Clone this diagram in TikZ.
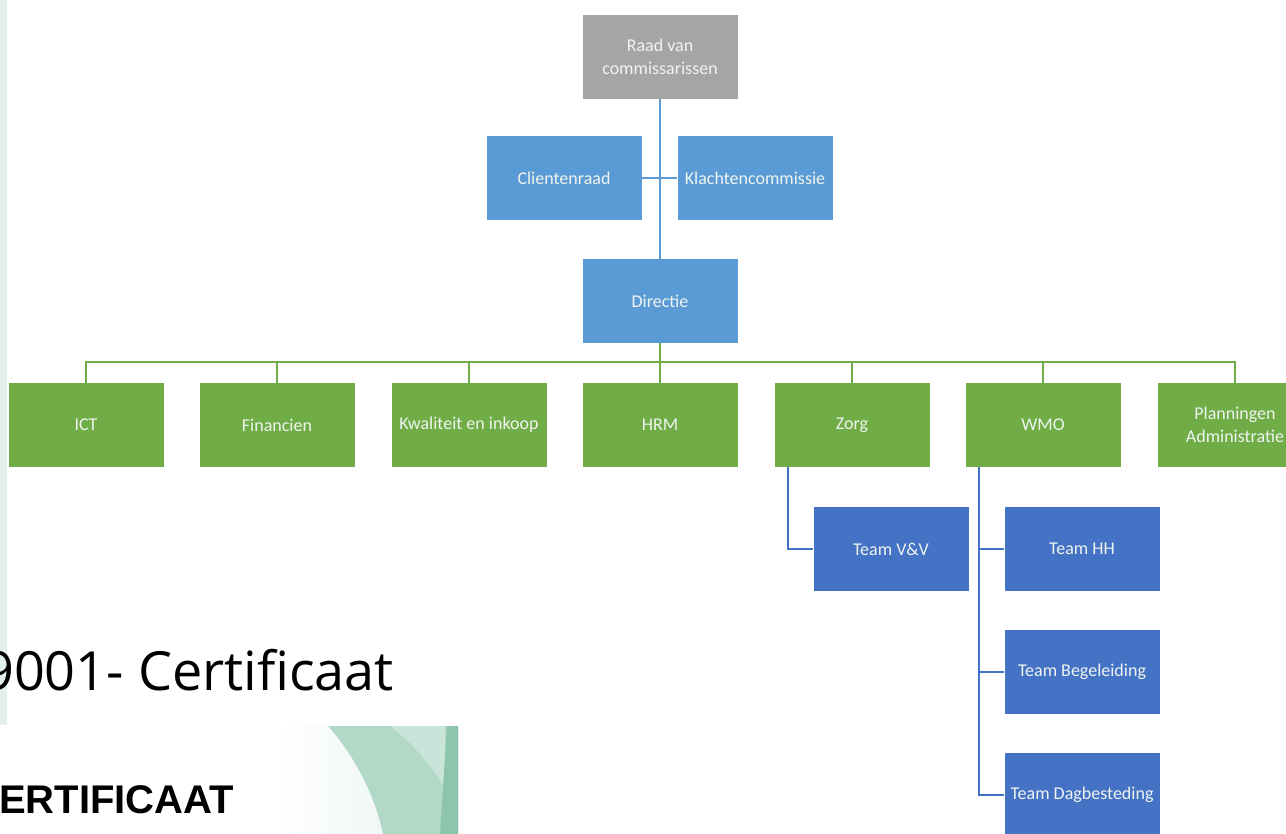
\documentclass[tikz,border=0pt]{standalone}
\usepackage{fontspec}
\setmainfont{Open Sans}
\newfontfamily\boxfont{Carlito}
\newfontfamily\certfont{Liberation Sans}
\usepackage{tikz}
\usetikzlibrary{positioning}
\usepackage{xcolor}
\definecolor{orggray}{RGB}{165,165,165}
\definecolor{orgblue}{RGB}{91,155,213}
\definecolor{orggreen}{RGB}{112,173,71}
\definecolor{teamblue}{RGB}{68,114,196}
\definecolor{stripmint}{RGB}{224,240,233}
\definecolor{certmint}{RGB}{178,216,200}
\definecolor{certdark}{RGB}{140,196,172}
\definecolor{boxtext}{RGB}{238,244,240}
\tikzstyle{box} = [minimum width=155pt, minimum height=84pt, inner sep=2pt, text=boxtext, font=\boxfont\fontsize{18}{22.5}\selectfont, align=center]
\tikzstyle{board} = [box, fill=orggray]
\tikzstyle{staff} = [box, fill=orgblue]
\tikzstyle{dept} = [box, fill=orggreen]
\tikzstyle{team} = [box, fill=teamblue]
\tikzstyle{blueline} = [line width=2pt, color=orgblue]
\tikzstyle{greenline} = [line width=2.5pt, color=orggreen]
\tikzstyle{teamline} = [line width=2pt, color=teamblue]

\begin{document}
\begin{tikzpicture}[x=1pt, y=-1pt]
\clip (0,0) rectangle (1286,834);
\fill[white] (0,0) rectangle (1286,834);

% Background strip and certificate
\fill[stripmint] (0,0) rectangle (7,725);
\node[anchor=base west, inner sep=0pt, font=\fontsize{54}{60}\selectfont] (certtitle) at (-17,690) {9001- Certificaat};
\node[anchor=base west, inner sep=0pt, font=\certfont\bfseries\fontsize{40}{44}\selectfont] (certword) at (-1,813) {ERTIFICAAT};
\fill[left color=white, right color=certmint!35] (277,726) rectangle (458,834);
\fill[certmint] (328,726) .. controls (358,760) and (376,800) .. (383,834) -- (458,834) -- (458,726) -- cycle;
\fill[certmint!70!white] (390,726) .. controls (420,750) and (435,770) .. (445,790) -- (445,726) -- cycle;
\fill[certdark] (447,726) -- (458,726) -- (458,834) -- (440,834) -- cycle;

% Top
\node[board] (raad) at (660,57) {Raad van\\commissarissen};
\node[staff] (clienten) at (564,178) {Clientenraad};
\node[staff] (klachten) at (755,178) {Klachtencommissie};
\node[staff] (directie) at (660,301) {Directie};

\draw[blueline] (raad) -- (directie);
\draw[blueline] (clienten) -- (klachten);

% Departments
\node[dept] (ict) at (86,425) {ICT};
\node[dept] (financien) at (277,425) {Financien};
\node[dept] (kwaliteit) at (469,425) {Kwaliteit en inkoop};
\node[dept] (hrm) at (660,425) {HRM};
\node[dept] (zorg) at (852,425) {Zorg};
\node[dept] (wmo) at (1043,425) {WMO};
\node[dept] (planning) at (1235,425) {Planningen\\Administratie};

\coordinate (bus) at (660,362);
\draw[greenline] (directie) -- (bus);
\draw[greenline] (bus) -| (ict.north);
\draw[greenline] (bus) -| (financien.north);
\draw[greenline] (bus) -| (kwaliteit.north);
\draw[greenline] (bus) -- (hrm.north);
\draw[greenline] (bus) -| (zorg.north);
\draw[greenline] (bus) -| (wmo.north);
\draw[greenline] (bus) -| (planning.north);

% Teams
\node[team] (vv) at (891,549) {Team V\&V};
\node[team] (hh) at (1082,549) {Team HH};
\node[team] (begeleiding) at (1082,672) {Team Begeleiding};
\node[team] (dagbesteding) at (1082,795) {Team Dagbesteding};

\draw[teamline] ([xshift=-64pt]zorg.south) |- (vv.west);
\draw[teamline] ([xshift=-64pt]wmo.south) |- (dagbesteding.west);
\draw[teamline] ([xshift=-64pt]wmo.south) |- (hh.west);
\draw[teamline] ([xshift=-64pt]wmo.south) |- (begeleiding.west);
\end{tikzpicture}
\end{document}
